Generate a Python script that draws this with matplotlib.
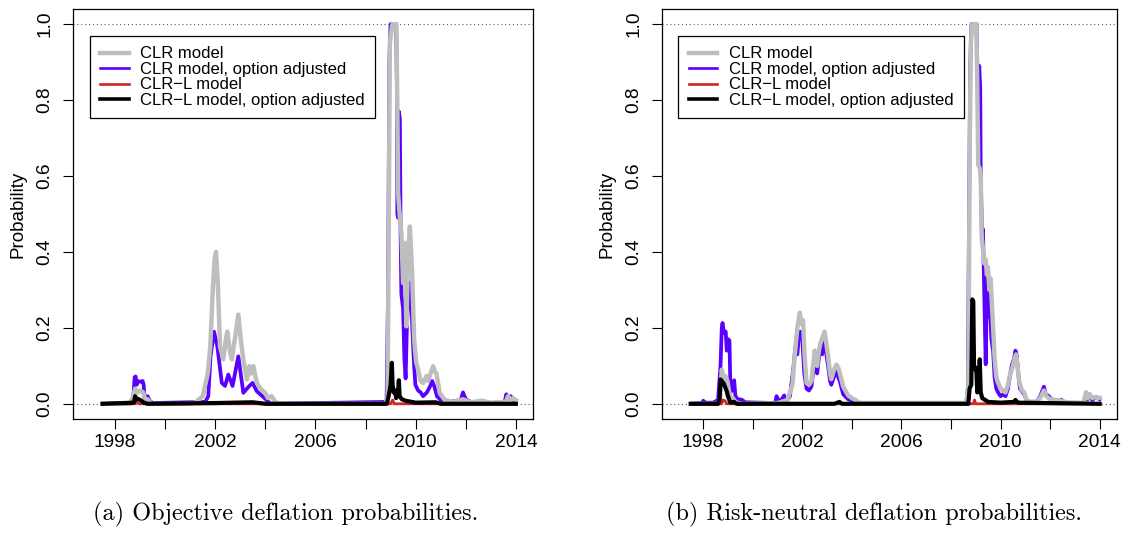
import matplotlib
matplotlib.use("Agg")
import matplotlib.pyplot as plt
from matplotlib.lines import Line2D

plt.rcParams["font.family"] = ["Liberation Sans", "DejaVu Sans"]

# colours / labels
col_clr = "#BEBEBE"
col_opt = "#5A00FF"
col_clrl = "#CD2626"
col_clrl_opt = "#000000"
labels = ["CLR model", "CLR model, option adjusted", "CLR\u2212L model", "CLR\u2212L model, option adjusted"]

# ---- (a) objective probabilities ----
obj_clr_t = [1997.5, 1998.6, 1998.72, 1998.8, 1998.9, 1999.0, 1999.12, 1999.2, 1999.3, 1999.45,
             2000.9, 2001.2, 2001.5, 2001.7, 2001.8, 2001.9, 2001.97, 2002.03, 2002.1, 2002.19,
             2002.32, 2002.42, 2002.48, 2002.58, 2002.66, 2002.78, 2002.92, 2003.0, 2003.12, 2003.26,
             2003.36, 2003.44, 2003.52, 2003.66, 2003.8, 2003.99, 2004.1, 2004.25, 2004.39, 2004.6,
             2008.8, 2008.88, 2008.93, 2008.97, 2009.07, 2009.23, 2009.27, 2009.3, 2009.36, 2009.43,
             2009.5, 2009.56, 2009.63, 2009.7, 2009.77, 2009.86, 2009.94, 2010.02, 2010.1, 2010.2,
             2010.3, 2010.43, 2010.5, 2010.57, 2010.7, 2010.77, 2010.83, 2010.96, 2011.16, 2011.5,
             2011.89, 2012.2, 2012.62, 2013.0, 2013.6, 2013.69, 2013.8, 2013.89, 2014.0]
obj_clr = [0.0, 0.0, 0.02, 0.04, 0.03, 0.035, 0.03, 0.01, 0.012, 0.0,
           0.0, 0.003, 0.02, 0.08, 0.15, 0.3, 0.38, 0.40, 0.32, 0.15,
           0.117, 0.17, 0.19, 0.14, 0.117, 0.17, 0.235, 0.18, 0.117, 0.064,
           0.099, 0.08, 0.099, 0.055, 0.04, 0.029, 0.015, 0.02, 0.005, 0.0,
           0.0, 0.02, 0.5, 0.95, 1.0, 1.0, 0.78, 0.555, 0.5, 0.45,
           0.318, 0.424, 0.204, 0.397, 0.467, 0.345, 0.169, 0.11, 0.09, 0.06,
           0.055, 0.073, 0.06, 0.075, 0.099, 0.085, 0.08, 0.029, 0.01, 0.005,
           0.012, 0.004, 0.008, 0.003, 0.005, 0.02, 0.01, 0.015, 0.01]

obj_opt_t = [1997.5, 1998.6, 1998.73, 1998.78, 1998.82, 1998.86, 1998.9, 1999.0, 1999.1, 1999.14,
             1999.18, 1999.25, 1999.3, 1999.38, 1999.5, 2001.6, 2001.72, 2001.81, 2001.95, 2002.08,
             2002.26, 2002.39, 2002.52, 2002.69, 2002.92, 2003.12, 2003.36, 2003.49, 2003.66, 2004.05,
             2004.2, 2008.84, 2008.9, 2008.95, 2009.0, 2009.22, 2009.25, 2009.27, 2009.3, 2009.33,
             2009.37, 2009.4, 2009.43, 2009.5, 2009.55, 2009.6, 2009.65, 2009.72, 2009.77, 2009.82,
             2009.88, 2009.94, 2009.99, 2010.1, 2010.2, 2010.3, 2010.45, 2010.57, 2010.66, 2010.75,
             2010.85, 2011.0, 2011.3, 2011.8, 2011.89, 2012.0, 2012.2, 2012.55, 2012.62, 2013.0,
             2013.55, 2013.62, 2013.7, 2013.8, 2013.9, 2014.0]
obj_opt = [0.0, 0.002, 0.02, 0.07, 0.072, 0.05, 0.06, 0.058, 0.06, 0.05,
           0.01, 0.018, 0.02, 0.008, 0.002, 0.005, 0.02, 0.125, 0.19, 0.152,
           0.055, 0.047, 0.077, 0.047, 0.125, 0.029, 0.047, 0.055, 0.033, 0.01,
           0.0, 0.005, 0.3, 0.9, 1.0, 1.0, 0.85, 0.5, 0.49, 0.77,
           0.75, 0.45, 0.29, 0.25, 0.12, 0.067, 0.2, 0.3, 0.32, 0.28,
           0.18, 0.1, 0.05, 0.035, 0.03, 0.02, 0.03, 0.045, 0.06, 0.045,
           0.02, 0.01, 0.004, 0.01, 0.03, 0.012, 0.005, 0.002, 0.008, 0.002,
           0.003, 0.025, 0.012, 0.02, 0.01, 0.008]

obj_clrl_t = [1997.5, 1998.78, 1998.85, 1998.95, 2009.0, 2009.08, 2009.15, 2014.0]
obj_clrl = [0.0, 0.0, 0.006, 0.0, 0.0, 0.01, 0.0, 0.0]

obj_clrl_opt_t = [1997.5, 1998.75, 1998.8, 1998.86, 1998.95, 1999.05, 1999.15, 1999.3, 2002.0, 2003.5,
                  2004.0, 2008.85, 2008.92, 2009.0, 2009.05, 2009.08, 2009.12, 2009.18, 2009.22, 2009.3,
                  2009.33, 2009.36, 2009.45, 2009.6, 2010.0, 2010.8, 2011.0, 2014.0]
obj_clrl_opt = [0.0, 0.003, 0.02, 0.012, 0.012, 0.008, 0.003, 0.0, 0.002, 0.004,
                0.0, 0.0, 0.02, 0.05, 0.108, 0.05, 0.03, 0.035, 0.015, 0.035,
                0.062, 0.02, 0.012, 0.008, 0.003, 0.004, 0.0, 0.0]

# ---- (b) risk-neutral probabilities ----
rn_clr_t = [1997.5, 1998.6, 1998.68, 1998.75, 1998.82, 1998.9, 1998.98, 1999.05, 1999.12, 1999.2,
            1999.3, 1999.5, 2001.0, 2001.4, 2001.6, 2001.7, 2001.8, 2001.9, 2001.96, 2002.03,
            2002.1, 2002.17, 2002.27, 2002.37, 2002.45, 2002.5, 2002.56, 2002.6, 2002.67, 2002.73,
            2002.82, 2002.9, 2002.97, 2003.04, 2003.12, 2003.17, 2003.28, 2003.38, 2003.45, 2003.51,
            2003.65, 2003.85, 2004.0, 2004.12, 2004.3, 2008.62, 2008.7, 2008.76, 2008.8, 2008.86,
            2009.02, 2009.06, 2009.1, 2009.16, 2009.2, 2009.24, 2009.3, 2009.34, 2009.4, 2009.45,
            2009.49, 2009.55, 2009.6, 2009.63, 2009.7, 2009.76, 2009.83, 2009.9, 2010.0, 2010.1,
            2010.2, 2010.3, 2010.37, 2010.45, 2010.5, 2010.57, 2010.63, 2010.68, 2010.75, 2010.84,
            2010.95, 2011.05, 2011.17, 2011.4, 2011.6, 2011.75, 2011.85, 2012.0, 2012.45, 2012.7,
            2013.35, 2013.45, 2013.52, 2013.6, 2013.7, 2013.8, 2013.9, 2014.0]
rn_clr = [0.0, 0.0, 0.01, 0.09, 0.07, 0.073, 0.06, 0.03, 0.01, 0.015,
          0.005, 0.0, 0.002, 0.01, 0.05, 0.13, 0.2, 0.24, 0.21, 0.22,
          0.12, 0.055, 0.05, 0.06, 0.11, 0.14, 0.11, 0.1, 0.14, 0.16,
          0.175, 0.19, 0.16, 0.125, 0.08, 0.065, 0.09, 0.103, 0.095, 0.082,
          0.045, 0.022, 0.015, 0.011, 0.002, 0.002, 0.05, 0.7, 0.95, 1.0,
          1.0, 0.85, 0.63, 0.62, 0.6, 0.44, 0.4, 0.37, 0.38, 0.34,
          0.36, 0.3, 0.33, 0.29, 0.2, 0.12, 0.07, 0.055, 0.04, 0.035,
          0.03, 0.05, 0.073, 0.09, 0.1, 0.12, 0.13, 0.1, 0.06, 0.038,
          0.03, 0.01, 0.006, 0.005, 0.015, 0.035, 0.02, 0.012, 0.008, 0.003,
          0.003, 0.03, 0.015, 0.025, 0.015, 0.018, 0.015, 0.016]

rn_opt_t = [1997.5, 1997.95, 1998.0, 1998.1, 1998.4, 1998.6, 1998.7, 1998.75, 1998.78, 1998.84,
            1998.88, 1998.91, 1998.95, 1998.98, 1999.02, 1999.06, 1999.1, 1999.14, 1999.2, 1999.25,
            1999.3, 1999.4, 1999.55, 1999.7, 2000.9, 2000.96, 2001.05, 2001.15, 2001.27, 2001.35,
            2001.5, 2001.65, 2001.72, 2001.8, 2001.86, 2001.92, 2002.0, 2002.08, 2002.17, 2002.27,
            2002.37, 2002.45, 2002.5, 2002.6, 2002.67, 2002.73, 2002.8, 2002.9, 2002.97, 2003.04,
            2003.12, 2003.17, 2003.3, 2003.38, 2003.45, 2003.51, 2003.65, 2003.85, 2004.1, 2004.4,
            2008.62, 2008.68, 2008.74, 2008.78, 2008.83, 2009.03, 2009.06, 2009.1, 2009.14, 2009.18,
            2009.2, 2009.25, 2009.29, 2009.34, 2009.4, 2009.45, 2009.49, 2009.54, 2009.58, 2009.63,
            2009.7, 2009.76, 2009.83, 2009.9, 2010.0, 2010.1, 2010.2, 2010.3, 2010.37, 2010.45,
            2010.55, 2010.6, 2010.65, 2010.7, 2010.78, 2010.84, 2010.95, 2011.1, 2011.45, 2011.6,
            2011.75, 2011.82, 2011.95, 2012.05, 2012.3, 2012.45, 2012.6, 2013.38, 2013.45, 2013.52,
            2013.6, 2013.7, 2013.85, 2014.0]
rn_opt = [0.0, 0.002, 0.008, 0.003, 0.003, 0.01, 0.1, 0.2, 0.213, 0.187,
          0.19, 0.19, 0.14, 0.143, 0.17, 0.165, 0.04, 0.033, 0.05, 0.062,
          0.02, 0.012, 0.011, 0.004, 0.002, 0.02, 0.008, 0.01, 0.022, 0.005,
          0.02, 0.1, 0.15, 0.13, 0.178, 0.19, 0.17, 0.08, 0.04, 0.035,
          0.046, 0.09, 0.13, 0.08, 0.12, 0.15, 0.13, 0.165, 0.13, 0.1,
          0.06, 0.05, 0.075, 0.09, 0.07, 0.06, 0.025, 0.012, 0.005, 0.002,
          0.002, 0.04, 0.6, 0.9, 1.0, 1.0, 0.9, 0.8, 0.89, 0.83,
          0.6, 0.45, 0.46, 0.3, 0.104, 0.3, 0.36, 0.23, 0.25, 0.17,
          0.14, 0.07, 0.04, 0.03, 0.02, 0.025, 0.02, 0.04, 0.07, 0.1,
          0.12, 0.14, 0.13, 0.09, 0.04, 0.035, 0.025, 0.004, 0.005, 0.02,
          0.045, 0.025, 0.02, 0.012, 0.005, 0.011, 0.003, 0.002, 0.03, 0.012,
          0.025, 0.01, 0.018, 0.012]

rn_clrl_t = [1997.5, 1998.75, 1998.8, 1998.88, 1998.95, 2008.9, 2008.95, 2009.0, 2014.0]
rn_clrl = [0.0, 0.0, 0.01, 0.008, 0.0, 0.0, 0.01, 0.0, 0.0]

rn_clrl_opt_t = [1997.5, 1998.6, 1998.66, 1998.7, 1998.76, 1998.82, 1998.88, 1998.95, 1999.0, 1999.05,
                 1999.1, 1999.25, 1999.35, 2003.3, 2003.5, 2003.6, 2008.7, 2008.75, 2008.82, 2008.86,
                 2008.9, 2008.93, 2008.98, 2009.02, 2009.06, 2009.12, 2009.16, 2009.2, 2009.26, 2009.5,
                 2010.0, 2010.55, 2010.6, 2010.7, 2014.0]
rn_clrl_opt = [0.0, 0.0, 0.01, 0.064, 0.06, 0.055, 0.045, 0.033, 0.02, 0.011,
               0.003, 0.005, 0.0, 0.0, 0.005, 0.0, 0.0, 0.04, 0.05, 0.275,
               0.27, 0.1, 0.09, 0.095, 0.03, 0.04, 0.117, 0.03, 0.015, 0.005,
               0.003, 0.005, 0.01, 0.003, 0.0]

year_ticks = [1998, 2000, 2002, 2004, 2006, 2008, 2010, 2012, 2014]
year_labels = ["1998", "", "2002", "", "2006", "", "2010", "", "2014"]
prob_ticks = [0.0, 0.2, 0.4, 0.6, 0.8, 1.0]
captions = ["(a) Objective deflation probabilities.", "(b) Risk-neutral deflation probabilities."]

panels = [
    (obj_clr_t, obj_clr, obj_opt_t, obj_opt, obj_clrl_t, obj_clrl, obj_clrl_opt_t, obj_clrl_opt),
    (rn_clr_t, rn_clr, rn_opt_t, rn_opt, rn_clrl_t, rn_clrl, rn_clrl_opt_t, rn_clrl_opt),
]

fig = plt.figure(figsize=(11.27, 5.43), dpi=100)
axes_pos = [[0.0648, 0.2284, 0.408, 0.755], [0.587, 0.2284, 0.4037, 0.755]]
cap_x = [0.253, 0.7755]

# legend keys, drawn thinner than the noisy data lines look
handles = [Line2D([], [], color=col_clr, lw=3.2),
           Line2D([], [], color=col_opt, lw=1.9),
           Line2D([], [], color=col_clrl, lw=1.9),
           Line2D([], [], color=col_clrl_opt, lw=2.6)]

for i, p in enumerate(panels):
    ax = fig.add_axes(axes_pos[i])
    t1, v1, t2, v2, t3, v3, t4, v4 = p
    ax.axhline(0, color="#555555", lw=0.8, ls=(0, (1, 2.5)), zorder=1)
    ax.axhline(1, color="#555555", lw=0.8, ls=(0, (1, 2.5)), zorder=1)
    ax.plot(t2, v2, color=col_opt, lw=2.7, zorder=2)
    ax.plot(t1, v1, color=col_clr, lw=3.2, zorder=3)
    ax.plot(t3, v3, color=col_clrl, lw=2.0, zorder=4)
    ax.plot(t4, v4, color=col_clrl_opt, lw=3.0, zorder=5)

    ax.set_xlim(1996.32, 2014.68)
    ax.set_ylim(-0.04, 1.04)
    ax.set_xticks(year_ticks)
    ax.set_xticklabels(year_labels)
    ax.set_yticks(prob_ticks)
    ax.set_yticklabels(["%.1f" % v for v in prob_ticks], rotation=90, va="center")
    ax.tick_params(axis="both", direction="out", length=7, width=0.8, labelsize=13.8)
    ax.tick_params(axis="x", pad=4)
    ax.tick_params(axis="y", pad=7)
    ax.set_ylabel("Probability", fontsize=13.5, labelpad=7)
    for s in ax.spines.values():
        s.set_linewidth(0.9)

    leg = ax.legend(handles, labels, loc="upper left", bbox_to_anchor=(0.037, 0.934),
                    borderaxespad=0, fancybox=False, edgecolor="black", framealpha=1,
                    fontsize=12, handlelength=1.7, handletextpad=0.7, labelspacing=0.03,
                    borderpad=0.62)
    leg.get_frame().set_linewidth(0.9)

    fig.text(cap_x[i], 0.052, captions[i], ha="center", va="center",
             fontfamily="cmr10", fontsize=17.5)

fig.savefig("out.png", dpi=100)
